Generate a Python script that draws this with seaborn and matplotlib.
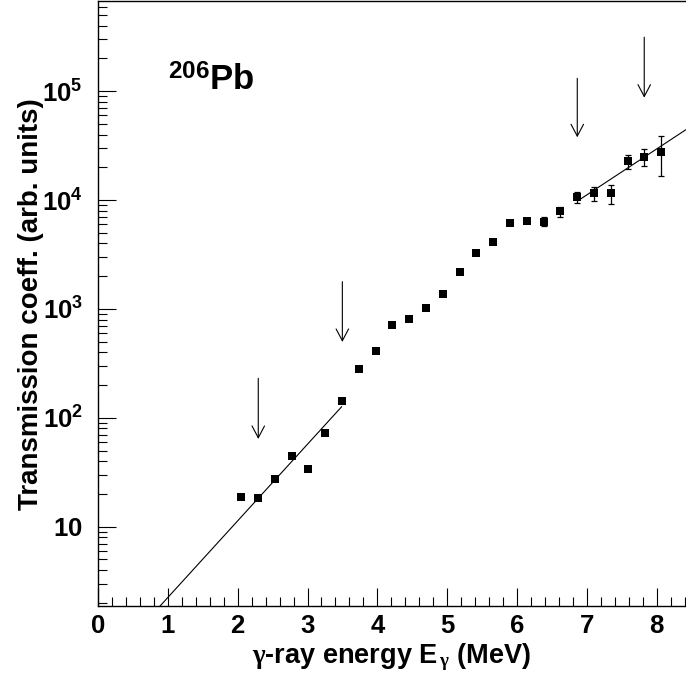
import numpy as np
import pandas as pd
import matplotlib
matplotlib.use("Agg")
import matplotlib.pyplot as plt
from matplotlib.ticker import MultipleLocator, LogLocator, FixedFormatter, NullFormatter, FixedLocator
import seaborn as sns

# ---- data ----
energy = [2.05, 2.295, 2.534, 2.773, 3.011, 3.250, 3.489, 3.737, 3.976, 4.214,
          4.457, 4.696, 4.940, 5.179, 5.417, 5.660, 5.899, 6.138, 6.382, 6.619,
          6.863, 7.102, 7.345, 7.584, 7.822, 8.066]
trans = [18.6, 18.4, 27.3, 44.9, 33.9, 72.1, 143, 279, 414, 708,
         804, 1014, 1364, 2188, 3290, 4150, 6125, 6470, 6340, 7900,
         10620, 11560, 11500, 22750, 25070, 27680]
err = [0, 0, 0, 0, 0, 0, 0, 0, 0, 0,
       0, 0, 0, 0, 0, 0, 0, 0, 600, 830,
       1200, 1670, 2270, 3400, 4280, 11200]

# fit lines: log10(T) = a + b*E over [E_start, E_end]
fit_a = [-0.354, 1.094]
fit_b = [0.704, 0.422]
fit_start = [0.0, 6.90]
fit_end = [3.49, 8.60]

# arrows (energy, tail value, head value)
arrow_E = [2.295, 3.499, 6.863, 7.822]
arrow_top = [231, 1782, 131500, 313300]
arrow_tip = [64, 498, 37760, 87300]

ytick_vals = [10, 1e2, 1e3, 1e4, 1e5]
ytick_labels = [r'$\mathbf{10}$', r'$\mathbf{10^{2}}$', r'$\mathbf{10^{3}}$',
                r'$\mathbf{10^{4}}$', r'$\mathbf{10^{5}}$']

# ---- style ----
sns.set_style("ticks")
plt.rcParams['font.family'] = ['Liberation Sans', 'DejaVu Sans']
plt.rcParams['font.weight'] = 'bold'
plt.rcParams['mathtext.fontset'] = 'custom'
plt.rcParams['mathtext.rm'] = 'Liberation Sans:bold'
plt.rcParams['mathtext.bf'] = 'Liberation Sans:bold'
plt.rcParams['mathtext.it'] = 'Liberation Serif'
plt.rcParams['text.color'] = 'black'
plt.rcParams['axes.labelcolor'] = 'black'
plt.rcParams['xtick.color'] = 'black'
plt.rcParams['ytick.color'] = 'black'
plt.rcParams['axes.edgecolor'] = 'black'

fig = plt.figure(figsize=(6.86, 6.89), dpi=100)
ax = fig.add_axes([98/686, 83/689, 588/686, 604.7/689])

df = pd.DataFrame({'E': energy, 'T': trans, 'err': err})
de = df[df['err'] > 0]
ax.errorbar(de['E'], de['T'], yerr=de['err'], fmt='none', ecolor='black',
            elinewidth=0.9, capsize=2.5, capthick=0.9, zorder=2)
sns.scatterplot(data=df, x='E', y='T', marker='s', s=26, color='black',
                edgecolor='black', linewidth=0, ax=ax, zorder=3, legend=False)

for a, b, s, e in zip(fit_a, fit_b, fit_start, fit_end):
    ee = np.linspace(s, e, 50)
    sns.lineplot(x=ee, y=10 ** (a + b * ee), color='black', linewidth=0.8,
                 ax=ax, zorder=2, legend=False)

for xe, yt, yh in zip(arrow_E, arrow_top, arrow_tip):
    ax.annotate('', xy=(xe, yh), xytext=(xe, yt),
                arrowprops=dict(arrowstyle='->,head_length=0.85,head_width=0.45',
                                color='black', lw=0.8, shrinkA=0, shrinkB=0))

ax.set_yscale('log')
ax.set_xlim(0, 8.42)
ax.set_ylim(1.87, 6.7e5)

ax.xaxis.set_major_locator(MultipleLocator(1))
ax.xaxis.set_minor_locator(MultipleLocator(0.2))
ax.yaxis.set_major_locator(FixedLocator(ytick_vals))
ax.yaxis.set_major_formatter(FixedFormatter(ytick_labels))
ax.yaxis.set_minor_locator(LogLocator(base=10, subs=np.arange(2, 10)))
ax.yaxis.set_minor_formatter(NullFormatter())

ax.tick_params(axis='both', which='both', direction='in', top=False, right=False,
               width=0.8, color='black', labelcolor='black')
ax.tick_params(axis='both', which='major', length=13, labelsize=18.5, pad=6)
ax.tick_params(axis='both', which='minor', length=6.5)
ax.tick_params(axis='y', which='major', pad=11)
for lab in ax.get_xticklabels():
    lab.set_fontweight('bold')

ax.spines['right'].set_visible(False)
for sp in ['left', 'bottom', 'top']:
    ax.spines[sp].set_linewidth(1.0)
    ax.spines[sp].set_color('black')

ax.set_xlabel(r'$\gamma$-ray energy E$_{\,\gamma}$ (MeV)', fontsize=19.5, fontweight='bold',
              labelpad=2, color='black')
ax.set_ylabel('Transmission coeff. (arb. units)', fontsize=20, fontweight='bold', color='black')
ax.yaxis.set_label_coords(-0.092, 0.5)

ax.text(0.119, 0.852, r'$^{\mathbf{206}}$Pb', transform=ax.transAxes, fontsize=25,
        fontweight='bold', ha='left', va='baseline', color='black')

fig.savefig('out.png', dpi=100)
